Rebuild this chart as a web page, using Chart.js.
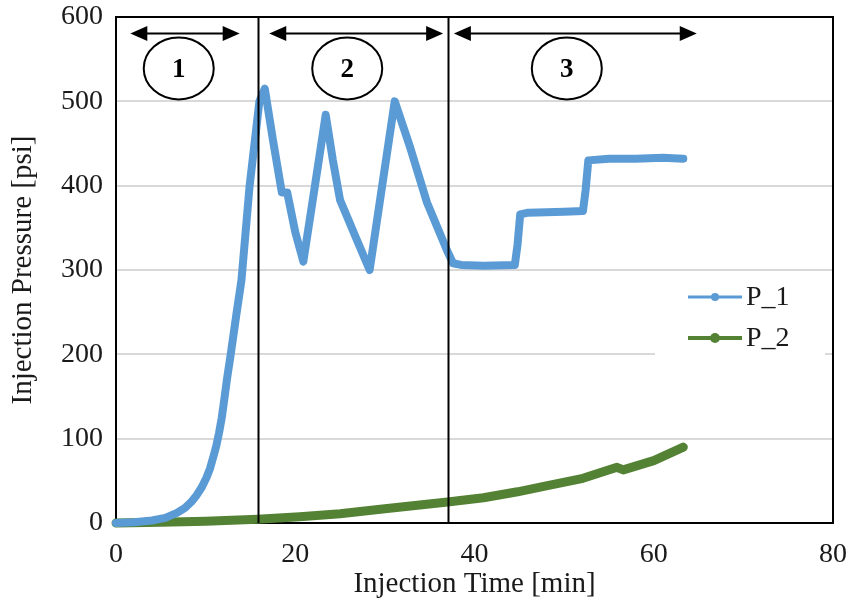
<!DOCTYPE html>
<html>
<head>
<meta charset="utf-8">
<script src="https://cdn.jsdelivr.net/npm/chart.js@4.4.1/dist/chart.umd.min.js"></script>
<style>
  html, body { margin: 0; padding: 0; background: #fff; }
  canvas { display: block; }
</style>
</head>
<body>
<canvas id="pressure-chart" width="851" height="602"></canvas>
<script>
// gauge P_1: injection time [min] / pressure [psi]
const p1Time = [0, 2, 4, 5.5, 6.8, 7.7, 8.4, 9.0, 9.6, 10.1, 10.5, 10.9, 11.2, 11.5, 11.8, 12.1,
                12.4, 12.8, 13.4, 14.0, 14.9, 16.0, 16.6,
                17.5, 18.5, 19.1, 20.0, 20.9, 22.2, 23.4, 24.2, 25.0, 26.7, 28.3, 29.7, 31.1,
                32.8, 34.7, 36.9, 37.6, 38.5, 41, 44.5, 44.8, 45.1, 46, 50, 52.1, 52.4, 52.7,
                55, 58, 61, 63.3];
const p1Psi  = [0, 1, 3, 6, 12, 18, 25, 33, 43, 54, 65, 80, 92, 107, 125, 148,
                172, 200, 245, 288, 399, 500, 515,
                455, 392, 392, 345, 310, 400, 484, 430, 383, 340, 300, 400, 500,
                446, 380, 324, 308, 306, 305, 306, 330, 366, 368, 369, 370, 395, 430,
                432, 432, 433, 432];

// gauge P_2
const p2Time = [0, 5, 10, 15.8, 20.5, 25, 30, 37, 41, 44.8, 48, 52.1, 55.9, 56.6, 60, 63.3];
const p2Psi  = [0, 1, 2, 4.5, 7.5, 11, 17, 25, 30, 37, 44, 53, 66, 63, 74, 90];

const seriesNames = ['P_1', 'P_2'];
const seriesColors = ['#5b9bd5', '#548235'];

// axis ranges
const xMin = 0, xMax = 80, xStep = 20;
const yMin = 0, yMax = 600, yStep = 100;

// stage boundaries [min] and stage labels
const stageBounds = [15.8, 37.0];
const stageNames = ['1', '2', '3'];

const toPoints = (xs, ys) => xs.map((x, i) => ({ x: x, y: ys[i] }));

const serif = "'Liberation Serif', 'Times New Roman', serif";
const textColor = '#1a1a1a';

// where the stage arrows and circled numbers sit (data units)
const stageMarks = {
  arrowY: 581.5,
  arrows: [[1.6, 13.8], [17.1, 36.5], [37.7, 64.8]],
  circleY: 539,
  circleX: [7.0, 25.8, 50.3]
};

function arrowHead(ctx, x, y, dir) {
  ctx.beginPath();
  ctx.moveTo(x, y);
  ctx.lineTo(x - dir * 17, y - 7.5);
  ctx.lineTo(x - dir * 17, y + 7.5);
  ctx.closePath();
  ctx.fill();
}

const stagePlugin = {
  id: 'stagePlugin',
  beforeDatasetsDraw(chart) {
    const { ctx, chartArea: a } = chart;
    ctx.save();
    ctx.strokeStyle = '#000';
    ctx.lineWidth = 2;
    ctx.strokeRect(a.left, a.top, a.right - a.left, a.bottom - a.top);
    ctx.restore();
  },
  afterDatasetsDraw(chart) {
    const { ctx, scales: { x, y } } = chart;
    ctx.save();
    ctx.strokeStyle = '#000';
    ctx.fillStyle = '#000';
    ctx.lineWidth = 2;

    // stage divider lines
    stageBounds.forEach(t => {
      const px = Math.round(x.getPixelForValue(t)) + 0.5;
      ctx.beginPath();
      ctx.moveTo(px, y.getPixelForValue(yMax));
      ctx.lineTo(px, y.getPixelForValue(yMin));
      ctx.stroke();
    });

    // double-headed arrows
    const ay = Math.round(y.getPixelForValue(stageMarks.arrowY)) + 0.5;
    stageMarks.arrows.forEach(([t0, t1]) => {
      const x0 = x.getPixelForValue(t0), x1 = x.getPixelForValue(t1);
      ctx.beginPath();
      ctx.moveTo(x0 + 10, ay);
      ctx.lineTo(x1 - 10, ay);
      ctx.stroke();
      arrowHead(ctx, x0, ay, -1);
      arrowHead(ctx, x1, ay, 1);
    });

    // circled stage numbers
    const cy = y.getPixelForValue(stageMarks.circleY);
    ctx.font = 'bold 27px ' + serif;
    ctx.textAlign = 'center';
    ctx.textBaseline = 'middle';
    stageMarks.circleX.forEach((t, i) => {
      const cx = x.getPixelForValue(t);
      ctx.beginPath();
      ctx.ellipse(cx, cy, 35, 31, 0, 0, Math.PI * 2);
      ctx.fillStyle = '#fff';
      ctx.fill();
      ctx.stroke();
      ctx.fillStyle = '#000';
      ctx.fillText(stageNames[i], cx, cy + 2);
    });
    ctx.restore();
  }
};

// Excel-style legend box in the right part of the plot
const legendPlugin = {
  id: 'legendPlugin',
  afterDatasetsDraw(chart) {
    const { ctx } = chart;
    ctx.save();
    ctx.fillStyle = '#fff';
    ctx.fillRect(655, 276, 170, 84);
    ctx.font = '28px ' + serif;
    ctx.textAlign = 'left';
    ctx.textBaseline = 'middle';
    const rows = [297, 338];
    const widths = [3, 4];
    const radii = [4, 5];
    chart.data.datasets.forEach((ds, i) => {
      const ly = rows[i];
      ctx.strokeStyle = ds.borderColor;
      ctx.fillStyle = ds.borderColor;
      ctx.lineWidth = widths[i];
      ctx.beginPath();
      ctx.moveTo(688, ly);
      ctx.lineTo(742, ly);
      ctx.stroke();
      ctx.beginPath();
      ctx.arc(715, ly, radii[i], 0, Math.PI * 2);
      ctx.fill();
      ctx.fillStyle = textColor;
      ctx.fillText(ds.label, 746, ly + 1);
    });
    ctx.restore();
  }
};

new Chart(document.getElementById('pressure-chart'), {
  type: 'scatter',
  data: {
    datasets: [
      {
        label: seriesNames[0],
        data: toPoints(p1Time, p1Psi),
        borderColor: seriesColors[0],
        backgroundColor: seriesColors[0],
        borderWidth: 8,
        showLine: true,
        pointRadius: 0,
        borderCapStyle: 'round',
        borderJoinStyle: 'round',
        clip: false
      },
      {
        label: seriesNames[1],
        data: toPoints(p2Time, p2Psi),
        borderColor: seriesColors[1],
        backgroundColor: seriesColors[1],
        borderWidth: 9,
        showLine: true,
        pointRadius: 0,
        borderCapStyle: 'round',
        borderJoinStyle: 'round',
        clip: false
      }
    ]
  },
  options: {
    responsive: false,
    animation: false,
    events: [],
    layout: { padding: { top: 17, right: 18, left: 0, bottom: 0 } },
    plugins: {
      legend: { display: false },
      tooltip: { enabled: false }
    },
    scales: {
      x: {
        type: 'linear',
        min: xMin, max: xMax,
        afterFit(scale) {
          scale.height = 79;
          scale.paddingLeft = 0;
          scale.paddingRight = 0;
        },
        ticks: {
          stepSize: xStep,
          padding: 15,
          color: textColor,
          font: { family: serif, size: 28 }
        },
        grid: { display: false, drawTicks: false, tickLength: 0 },
        border: { display: false },
        title: {
          display: true,
          text: 'Injection Time [min]',
          color: textColor,
          font: { family: serif, size: 29 },
          padding: { top: 0, bottom: 0 }
        }
      },
      y: {
        type: 'linear',
        min: yMin, max: yMax,
        afterFit(scale) {
          scale.width = 116;
          scale.paddingTop = 0;
          scale.paddingBottom = 0;
        },
        ticks: {
          stepSize: yStep,
          padding: 13,
          color: textColor,
          font: { family: serif, size: 28 }
        },
        grid: { color: '#d9d9d9', lineWidth: 2, drawTicks: false, tickLength: 0 },
        border: { display: false },
        title: {
          display: true,
          text: 'Injection Pressure [psi]',
          color: textColor,
          font: { family: serif, size: 29 },
          padding: { top: 6, bottom: 0 }
        }
      }
    }
  },
  plugins: [stagePlugin, legendPlugin]
});
</script>
</body>
</html>
